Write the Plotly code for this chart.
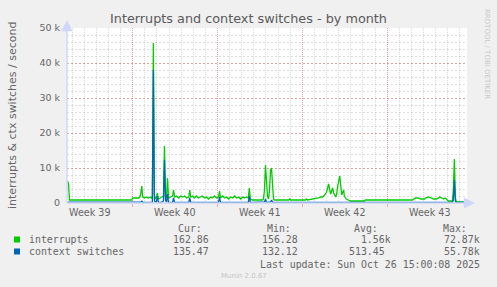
import pandas as pd
import plotly.graph_objects as go

# ---------------- data ----------------
times = [
    "2025-09-23 15:00", "2025-09-23 17:00", "2025-09-23 19:00", "2025-09-28 22:00",
    "2025-09-29 00:00", "2025-09-29 12:00", "2025-09-29 14:00", "2025-09-29 16:00",
    "2025-09-29 18:00", "2025-09-29 20:00", "2025-09-29 23:00", "2025-09-30 03:00",
    "2025-09-30 07:00", "2025-09-30 11:00", "2025-09-30 13:00", "2025-09-30 15:00",
    "2025-09-30 17:00", "2025-09-30 19:00", "2025-09-30 21:00", "2025-09-30 23:00",
    "2025-10-01 01:00", "2025-10-01 03:00", "2025-10-01 07:00", "2025-10-01 11:00",
    "2025-10-01 13:00", "2025-10-01 15:00", "2025-10-01 17:00", "2025-10-01 19:00",
    "2025-10-01 21:00", "2025-10-01 23:00", "2025-10-02 03:00", "2025-10-02 07:00",
    "2025-10-02 09:00", "2025-10-02 11:00", "2025-10-02 15:00", "2025-10-02 19:00",
    "2025-10-02 23:00", "2025-10-03 03:00", "2025-10-03 07:00", "2025-10-03 11:00",
    "2025-10-03 15:00", "2025-10-03 17:00", "2025-10-03 19:00", "2025-10-03 23:00",
    "2025-10-04 02:00", "2025-10-04 06:00", "2025-10-04 10:00", "2025-10-04 14:00",
    "2025-10-04 18:00", "2025-10-04 22:00", "2025-10-05 02:00", "2025-10-05 06:00",
    "2025-10-05 10:00", "2025-10-05 14:00", "2025-10-05 18:00", "2025-10-05 22:00",
    "2025-10-06 02:00", "2025-10-06 04:00", "2025-10-06 06:00", "2025-10-06 10:00",
    "2025-10-06 14:00", "2025-10-06 18:00", "2025-10-06 22:00", "2025-10-07 02:00",
    "2025-10-07 06:00", "2025-10-07 10:00", "2025-10-07 14:00", "2025-10-07 18:00",
    "2025-10-07 22:00", "2025-10-08 02:00", "2025-10-08 05:00", "2025-10-08 09:00",
    "2025-10-08 13:00", "2025-10-08 15:00", "2025-10-08 17:00", "2025-10-08 21:00",
    "2025-10-09 17:00", "2025-10-09 19:00", "2025-10-09 21:00", "2025-10-09 23:00",
    "2025-10-10 01:00", "2025-10-10 03:00", "2025-10-10 05:00", "2025-10-10 07:00",
    "2025-10-10 09:00", "2025-10-10 11:00", "2025-10-10 13:00", "2025-10-10 15:00",
    "2025-10-10 17:00", "2025-10-11 21:00", "2025-10-11 23:00", "2025-10-12 01:00",
    "2025-10-13 06:00", "2025-10-13 08:00", "2025-10-13 10:00", "2025-10-14 02:00",
    "2025-10-14 08:00", "2025-10-14 12:00", "2025-10-14 16:00", "2025-10-14 20:00",
    "2025-10-15 00:00", "2025-10-15 04:00", "2025-10-15 08:00", "2025-10-15 10:00",
    "2025-10-15 12:00", "2025-10-15 14:00", "2025-10-15 18:00", "2025-10-15 20:00",
    "2025-10-15 22:00", "2025-10-16 02:00", "2025-10-16 04:00", "2025-10-16 06:00",
    "2025-10-16 08:00", "2025-10-16 10:00", "2025-10-16 11:00", "2025-10-16 15:00",
    "2025-10-16 19:00", "2025-10-16 23:00", "2025-10-18 03:00", "2025-10-18 05:00",
    "2025-10-22 02:00", "2025-10-22 04:00", "2025-10-22 08:00", "2025-10-22 14:00",
    "2025-10-22 18:00", "2025-10-23 02:00", "2025-10-23 04:00", "2025-10-23 10:00",
    "2025-10-23 16:00", "2025-10-23 20:00", "2025-10-24 02:00", "2025-10-24 04:00",
    "2025-10-24 08:00", "2025-10-24 12:00", "2025-10-24 16:00", "2025-10-24 19:00",
    "2025-10-24 23:00", "2025-10-25 01:00", "2025-10-25 09:00", "2025-10-25 11:00",
    "2025-10-25 13:00", "2025-10-25 15:00", "2025-10-25 17:00", "2025-10-26 14:00",
]

interrupts = [
    6290, 5430, 860, 860,
    1430, 1430, 1710, 2570,
    4860, 1710, 1430, 1710,
    1430, 1710, 1430, 1710,
    45700, 2290, 1140, 1430,
    2860, 1140, 1430, 1710,
    2000, 16300, 2000, 1430,
    7140, 1430, 1710, 2000,
    3710, 1710, 2000, 1430,
    2000, 1710, 2000, 1430,
    1710, 3710, 1710, 2000,
    1430, 2000, 1430, 1710,
    2000, 1430, 1710, 1140,
    1710, 1430, 2000, 1430,
    1710, 3430, 1430, 2000,
    1430, 1710, 1140, 1710,
    1430, 2000, 1430, 1710,
    1140, 1710, 1430, 1710,
    1430, 4290, 1140, 860,
    860, 1140, 3710, 10860,
    6570, 2000, 1140, 3710,
    9430, 10000, 5140, 1140,
    860, 860, 1140, 860,
    860, 1140, 860, 1140,
    1430, 1710, 1710, 2290,
    3140, 5430, 2570, 3430,
    4290, 2860, 1710, 2570,
    4860, 7710, 3710, 2290,
    3140, 3710, 2000, 1140,
    860, 570, 570, 860,
    860, 1140, 1430, 1430,
    1140, 1140, 1430, 1710,
    1430, 1140, 1140, 1430,
    1710, 1430, 1140, 1430,
    860, 570, 570, 3710,
    12570, 1430, 350, 350,
]

ctx_switches = [
    250, 250, 200, 200,
    200, 200, 200, 250,
    500, 200, 200, 200,
    200, 200, 200, 250,
    38000, 860, 200, 300,
    2000, 200, 200, 300,
    570, 12290, 860, 200,
    2570, 200, 200, 200,
    1430, 200, 200, 200,
    200, 200, 200, 200,
    200, 1430, 200, 200,
    200, 200, 200, 200,
    200, 200, 200, 200,
    200, 200, 200, 200,
    200, 1710, 200, 200,
    200, 200, 200, 200,
    200, 200, 200, 200,
    200, 200, 200, 200,
    200, 2000, 200, 200,
    200, 200, 300, 1140,
    200, 200, 200, 200,
    300, 860, 200, 200,
    200, 200, 200, 200,
    200, 200, 200, 200,
    200, 200, 200, 200,
    200, 300, 200, 200,
    300, 200, 200, 200,
    250, 350, 200, 200,
    200, 200, 200, 200,
    200, 200, 200, 200,
    200, 200, 200, 200,
    200, 200, 200, 200,
    200, 200, 200, 200,
    200, 200, 200, 200,
    200, 200, 200, 860,
    6570, 500, 150, 150,
]

series_names = ["interrupts", "context switches"]
series_colors = ["#00CC00", "#0066B3"]

week_starts = ["2025-09-22", "2025-09-29", "2025-10-06", "2025-10-13", "2025-10-20"]
week_labels = ["Week 39", "Week 40", "Week 41", "Week 42", "Week 43"]
x_range = ["2025-09-23 14:00", "2025-10-26 14:00"]

y_ticks = [0, 10000, 20000, 30000, 40000, 50000]
y_ticklabels = ["0", "10 k", "20 k", "30 k", "40 k", "50 k"]

stat_headers = ["Cur:", "Min:", "Avg:", "Max:"]
interrupts_stats = ["162.86", "156.28", "1.56k", "72.87k"]
ctx_stats = ["135.47", "132.12", "513.45", "55.78k"]

title_text = "Interrupts and context switches - by month"
y_title = "interrupts &amp; ctx switches / second"
last_update = "Last update: Sun Oct 26 15:00:08 2025"
footer = "Munin 2.0.67"
side_text = "RRDTOOL / TOBI OETIKER"

# ---------------- layout geometry (pixels) ----------------
W, H = 497, 287
L, R, T, B = 67, 467, 28, 203
PW, PH = R - L, B - T


def px(x):
    return (x - L) / PW


def py(y):
    return (B - y) / PH


FONT = "#666666"
GRID = "rgba(150,150,150,0.35)"
GRID_Y = "rgba(150,150,150,0.32)"
MGRID = "rgba(225,100,100,0.5)"
MGRID_Y = "rgba(225,100,100,0.5)"
AXIS = "#CFD6F8"
MONO = "DejaVu Sans Mono"
SANS = "DejaVu Sans"

fig = go.Figure()
t = pd.to_datetime(times)
for name, vals, color in zip(series_names, [interrupts, ctx_switches], series_colors):
    fig.add_trace(go.Scatter(
        x=t, y=vals, mode="lines", name=name,
        line=dict(color=color, width=1.3),
        showlegend=False, hoverinfo="skip",
    ))

annotations = []
shapes = []

# week labels centred in each week (through the date axis)
for ws, lab in zip(week_starts, week_labels):
    mid = pd.Timestamp(ws) + pd.Timedelta(hours=84)
    annotations.append(dict(
        x=mid, xref="x", y=0, yref="paper", yanchor="top", yshift=-2,
        text=lab, showarrow=False,
        font=dict(family=SANS, size=9.6, color=FONT),
    ))

# axis arrows
annotations.append(dict(
    x=px(L), y=py(20), xref="paper", yref="paper", ax=0, ay=183,
    text="", showarrow=True, arrowhead=2, arrowsize=1.6, arrowwidth=1.4,
    arrowcolor=AXIS,
))
annotations.append(dict(
    x=px(475), y=py(B), xref="paper", yref="paper", ax=-410, ay=0,
    text="", showarrow=True, arrowhead=2, arrowsize=1.6, arrowwidth=1.4,
    arrowcolor=AXIS,
))

# y-axis title
annotations.append(dict(
    x=px(12), y=py(116), xref="paper", yref="paper", text=y_title,
    textangle=-90, showarrow=False, xanchor="center", yanchor="middle",
    font=dict(family=SANS, size=11, color=FONT),
))

# side text
annotations.append(dict(
    x=px(487), y=py(54), xref="paper", yref="paper", text=side_text,
    textangle=90, showarrow=False, xanchor="center", yanchor="middle",
    font=dict(family=SANS, size=7, color="#C8C8C8"),
))

# legend swatches + names
row_y = [239.5, 251.5]
for i, (name, color) in enumerate(zip(series_names, series_colors)):
    y0 = row_y[i] - 3
    shapes.append(dict(
        type="rect", xref="paper", yref="paper",
        x0=px(14), x1=px(20), y0=py(y0 + 6), y1=py(y0),
        fillcolor=color, line=dict(width=0),
    ))
    annotations.append(dict(
        x=px(27), y=py(row_y[i]), xref="paper", yref="paper", text=name,
        showarrow=False, xanchor="left", yanchor="middle",
        font=dict(family=MONO, size=9.9, color=FONT),
    ))

# statistics columns
col_right = [217, 306, 393, 482]
nb = "\u00a0"


def fmt(v):
    s = v if v.endswith("k") else v + " "
    return s.rjust(7).replace(" ", nb)


for j, hdr in enumerate(stat_headers):
    annotations.append(dict(
        x=px(col_right[j] - 13), y=py(228), xref="paper", yref="paper",
        text=hdr, showarrow=False, xanchor="right", yanchor="middle",
        font=dict(family=MONO, size=9.9, color=FONT),
    ))
    for i, stats in enumerate([interrupts_stats, ctx_stats]):
        annotations.append(dict(
            x=px(col_right[j]), y=py(row_y[i]), xref="paper", yref="paper",
            text=fmt(stats[j]), showarrow=False, xanchor="right", yanchor="middle",
            font=dict(family=MONO, size=9.9, color=FONT),
        ))

annotations.append(dict(
    x=px(482), y=py(264), xref="paper", yref="paper", text=last_update,
    showarrow=False, xanchor="right", yanchor="middle",
    font=dict(family=MONO, size=9.9, color=FONT),
))
annotations.append(dict(
    x=px(244), y=py(276), xref="paper", yref="paper", text=footer,
    showarrow=False, xanchor="center", yanchor="middle",
    font=dict(family=SANS, size=7, color="#C4C4C4"),
))

fig.update_layout(
    width=W, height=H,
    margin=dict(l=L, r=W - R, t=T, b=H - B, pad=0),
    paper_bgcolor="#F0F0F0", plot_bgcolor="#FFFFFF",
    title=dict(text=title_text, x=0.5, xref="container", xanchor="center",
               y=1 - 19 / H, yref="container", yanchor="middle",
               font=dict(family=SANS, size=12.8, color="#5A5A5A")),
    xaxis=dict(
        type="date", range=x_range, tickvals=week_starts,
        ticktext=[""] * len(week_starts), showticklabels=False,
        showgrid=True, gridcolor=MGRID, griddash="1px,1px", gridwidth=1,
        ticks="outside", ticklen=3, tickcolor=MGRID,
        zeroline=False, showline=False, fixedrange=True,
        minor=dict(dtick=86400000, tick0="2025-09-22", showgrid=True,
                   gridcolor=GRID, griddash="1px,1px", gridwidth=1),
    ),
    yaxis=dict(
        range=[0, 50000], tickvals=y_ticks, ticktext=y_ticklabels,
        showgrid=True, gridcolor=MGRID_Y, griddash="2px,2px", gridwidth=1,
        zeroline=False, showline=False, ticks="", ticklabelstandoff=6,
        tickfont=dict(family=SANS, size=9.5, color=FONT), fixedrange=True,
        minor=dict(dtick=2000, showgrid=True, gridcolor=GRID_Y,
                   griddash="2px,2px", gridwidth=1),
    ),
    annotations=annotations,
    shapes=shapes,
    showlegend=False,
)

fig.write_html("out.html", config={"displayModeBar": False})
